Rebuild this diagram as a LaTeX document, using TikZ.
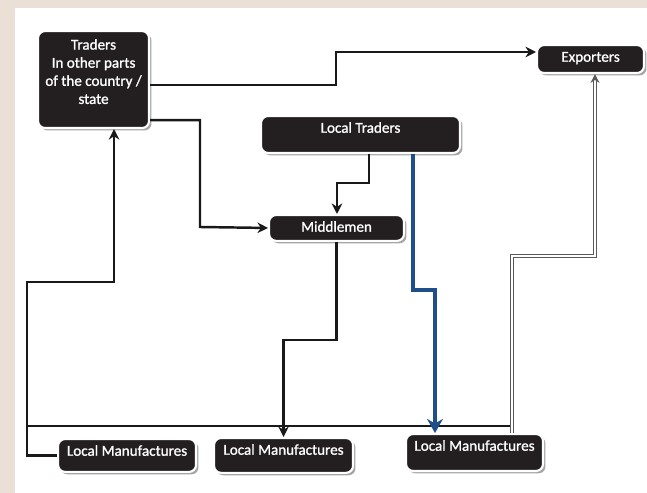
\documentclass[tikz,border=0pt]{standalone}
\usepackage{fontspec}
\setmainfont{Carlito}
\newfontfamily\boxface[FakeBold=1.2]{Carlito}
\usetikzlibrary{arrows.meta,calc,shadows}

\definecolor{boxfill}{RGB}{35,31,32}
\definecolor{flowblue}{RGB}{31,78,138}
\definecolor{backdrop}{RGB}{234,224,214}

\tikzset{
  box/.style={rectangle, rounded corners=4pt, fill=boxfill, draw=white, line width=1.2pt,
    text=white, font=\boxface\fontsize{8.6}{10.3}\selectfont, inner xsep=2pt, inner ysep=3pt,
    text height=6.5pt, anchor=north west,
    drop shadow={shadow xshift=1.4pt, shadow yshift=-1.4pt, fill=gray!70, opacity=1}},
  boxtext/.style={text=white, font=\boxface\fontsize{8.6}{10.3}\selectfont, align=center, inner sep=0pt},
  flow/.style={draw=black!90, line width=1.4pt, -{Stealth[length=6pt,width=6pt]}},
  bar/.style={draw=black!90, line width=1.4pt},
  blueflow/.style={draw=flowblue, line width=2.5pt, -{Stealth[length=8pt,width=9pt]}},
  hollowflow/.style={draw=black!65, line width=0.7pt, double=white, double distance=1.4pt,
    -{Stealth[length=5pt,width=5pt]}},
}

\begin{document}
\begin{tikzpicture}[x=0.02cm, y=-0.02cm]

\fill[backdrop] (0,0) rectangle (647,493);
\fill[white] (15,8) rectangle (647,493);
\useasboundingbox (0,0) rectangle (647,493);

% boxes
\node[box, minimum width=2.22cm, minimum height=1.94cm,
  label={[boxtext, anchor=north, yshift=-5pt]north:Traders\\In other parts\\of the country /\\state}] (traders) at (37,30) {};
\node[box, minimum width=2.14cm, text depth=3.4pt] (exporters) at (536,44) {Exporters};
\node[box, minimum width=3.98cm, text depth=8.5pt] (localtraders) at (260,115) {Local Traders};
\node[box, minimum width=2.7cm, text depth=2.2pt] (middlemen) at (268,214) {Middlemen};
\node[box, minimum width=2.76cm, text depth=6.2pt] (lm1) at (57,438) {Local Manufactures};
\node[box, minimum width=2.78cm, text depth=7.3pt] (lm2) at (213,437) {Local Manufactures};
\node[box, minimum width=2.74cm, text depth=8.5pt] (lm3) at (405,433) {Local Manufactures};

\coordinate (toexp) at (336,52);
\coordinate (tomid) at (200,227);
\coordinate (ltbend) at (337,183);
\coordinate (bluebend) at (435,290);
\coordinate (loopbend) at (27,282);
\coordinate (railL) at (27,426);
\coordinate (railR) at (512,426);
\coordinate (expbend) at (595,256);

% connectors
\draw[flow] ($(traders.east)+(0,5.5)$) -| (toexp) -- (toexp -| exporters.west);
\draw[flow] ($(traders.south east)+(0,-9)$) -| (tomid) -- (middlemen.west);
\draw[flow] ($(localtraders.south)+(8.5,0)$) |- (ltbend) -- (ltbend |- middlemen.north);
\draw[flow] (middlemen.south) -- ++(0,98) -| (lm2.north);
\draw[flow] (lm1.west) -| (loopbend) -| ($(traders.south)+(20.5,0)$);
\draw[bar] (railL) -- (railR);
\draw[hollowflow] (lm3.north -| railR) |- (expbend) -- (expbend |- exporters.south);
\draw[blueflow] ($(localtraders.south)+(52.5,0)$) |- (bluebend) -- (bluebend |- lm3.north);

\end{tikzpicture}
\end{document}
